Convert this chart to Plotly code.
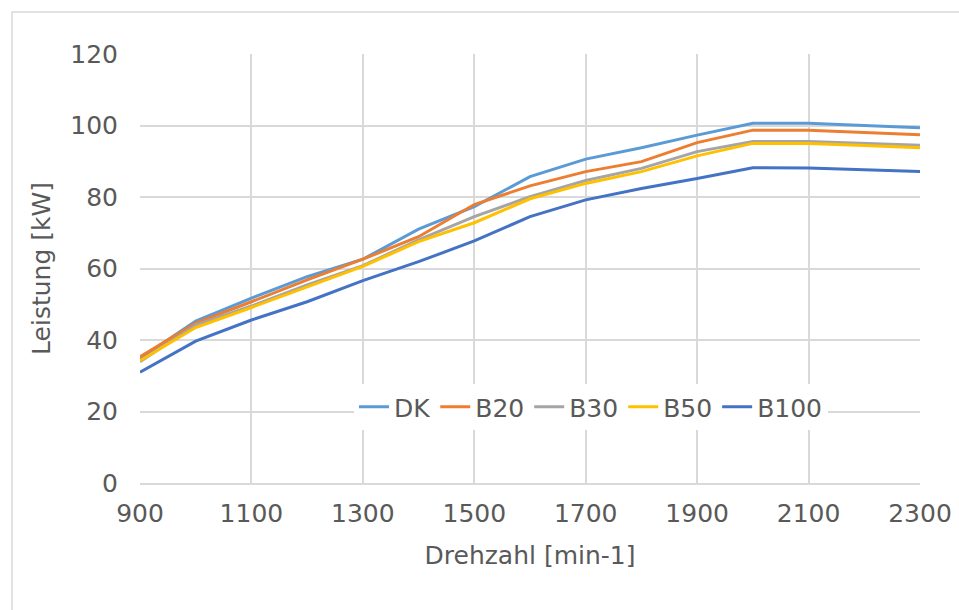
import plotly.graph_objects as go

drehzahl = [900, 1000, 1100, 1200, 1300, 1400, 1500, 1600, 1700, 1800, 1900, 2000, 2100, 2200, 2300]
dk   = [34.8, 45.3, 51.7, 57.7, 62.6, 71.0, 77.3, 85.7, 90.6, 93.8, 97.3, 100.6, 100.6, 100.0, 99.4]
b20  = [35.3, 44.7, 50.7, 56.8, 62.6, 68.9, 77.9, 83.1, 87.1, 89.9, 95.2, 98.7, 98.7, 98.1, 97.4]
b30  = [33.9, 44.2, 49.5, 55.4, 60.8, 68.0, 74.5, 80.1, 84.6, 88.0, 92.7, 95.5, 95.5, 95.0, 94.5]
b50  = [34.2, 43.5, 49.1, 54.9, 60.6, 67.5, 72.8, 79.5, 83.8, 87.1, 91.5, 95.0, 95.0, 94.4, 93.8]
b100 = [31.0, 39.7, 45.6, 50.7, 56.6, 61.9, 67.7, 74.5, 79.2, 82.4, 85.2, 88.2, 88.1, 87.6, 87.1]

series_names = ["DK", "B20", "B30", "B50", "B100"]
series_values = [dk, b20, b30, b50, b100]
colors = ["#5B9BD5", "#ED7D31", "#A5A5A5", "#FFC000", "#4472C4"]

x_ticks = [900, 1100, 1300, 1500, 1700, 1900, 2100, 2300]
y_ticks = [0, 20, 40, 60, 80, 100, 120]

fig = go.Figure()
for name, vals, c in zip(series_names, series_values, colors):
    fig.add_trace(go.Scatter(x=drehzahl, y=vals, name=name, mode="lines",
                             line=dict(color=c, width=3)))

font_family = "DejaVu Sans, sans-serif"
text_color = "#595959"
grid_color = "#D9D9D9"
fs = 25

W, H = 959, 610
L, R, T, B = 140, 39, 54, 127
pw, ph = W - L - R, H - T - B

fig.update_layout(
    width=W, height=H,
    margin=dict(l=L, r=R, t=T, b=B, autoexpand=False),
    paper_bgcolor="white", plot_bgcolor="white",
    font=dict(family=font_family, color=text_color, size=fs),
    xaxis=dict(range=[900, 2300], tickvals=x_ticks, ticktext=[str(v) for v in x_ticks],
               automargin=False,
               showgrid=True, gridcolor=grid_color, gridwidth=1.5,
               showline=True, linecolor=grid_color, linewidth=1.5,
               zeroline=False, ticks="outside", ticklen=7, tickcolor="rgba(255,255,255,0)",
               ticklabeloverflow="allow",
               title=dict(text="Drehzahl [min-1]", font=dict(size=fs, color=text_color), standoff=20),
               tickfont=dict(size=fs, color=text_color)),
    yaxis=dict(range=[0, 120], tickvals=y_ticks,
               automargin=False,
               showgrid=True, gridcolor=grid_color, gridwidth=1.5,
               showline=False, zeroline=False,
               ticks="outside", ticklen=16, tickcolor="rgba(255,255,255,0)",
               title=dict(text="Leistung [kW]", font=dict(size=fs, color=text_color), standoff=12),
               tickfont=dict(size=fs, color=text_color)),
    legend=dict(orientation="h", x=(591 - L) / pw, y=(483 - 407) / ph,
                xanchor="center", yanchor="middle",
                bgcolor="white", font=dict(size=fs, color=text_color),
                tracegroupgap=0),
    showlegend=True,
    shapes=[dict(type="rect", xref="paper", yref="paper",
                 x0=(12 - L) / pw, x1=(W + 20 - L) / pw,
                 y0=-(H + 20 - T - ph) / ph, y1=1 + (T - 12) / ph,
                 line=dict(color="#D9D9D9", width=1.5), fillcolor="rgba(0,0,0,0)",
                 layer="below")],
)

fig.write_html("out.html", config={"displayModeBar": False},
               post_script="document.body.style.margin='0';document.body.style.overflow='hidden';")
